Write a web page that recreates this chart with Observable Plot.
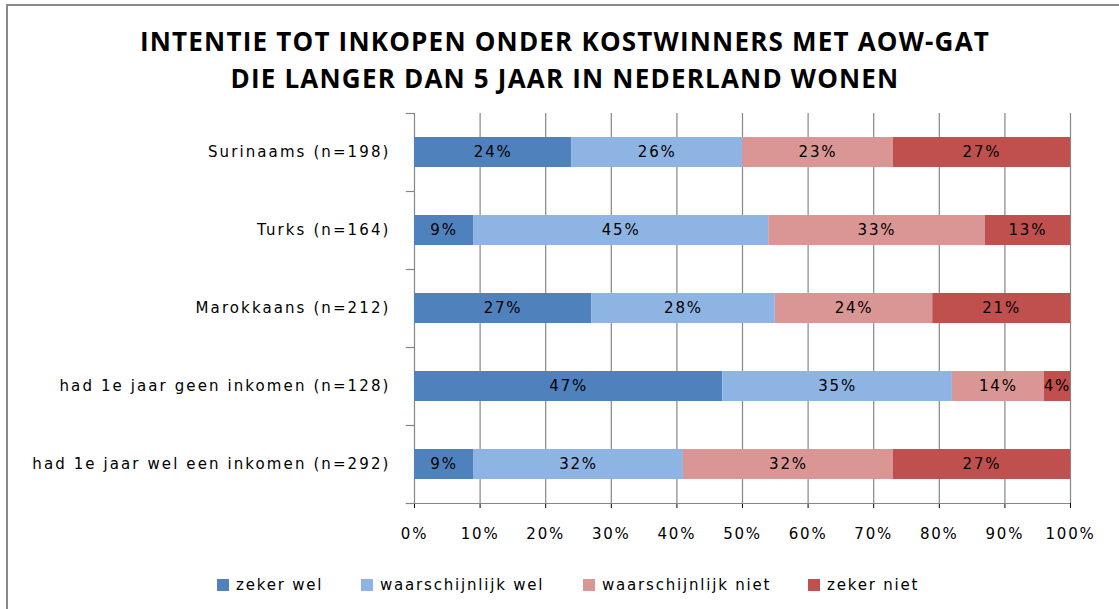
<!DOCTYPE html>
<html>
<head>
<meta charset="utf-8">
<script src="https://cdn.jsdelivr.net/npm/d3@7"></script>
<script src="https://cdn.jsdelivr.net/npm/@observablehq/plot@0.6"></script>
<style>
html, body { margin: 0; padding: 0; background: #fff; }
#wrap { position: relative; width: 1119px; height: 609px; overflow: hidden; background: #fff; }
#frame { position: absolute; left: 6px; top: 4px; width: 1200px; height: 700px; border-left: 2px solid #8a8a8a; border-top: 2px solid #8a8a8a; box-sizing: border-box; }
#title { position: absolute; left: 0; top: 23px; width: 1130px; text-align: center; font-family: "Open Sans", sans-serif; font-weight: bold; font-size: 26px; line-height: 37px; color: #000; letter-spacing: 1.2px; }
#chart { position: absolute; left: 0; top: 100px; }
#chart svg text { letter-spacing: 1.8px; }
#chart svg g[aria-label="y-axis tick label"] text { letter-spacing: 2.1px; }
#legend { position: absolute; top: 576px; left: 0; width: 1119px; font-family: "DejaVu Sans", sans-serif; font-size: 15px; color: #000; letter-spacing: 1.8px; }
#legend span.item { position: absolute; white-space: nowrap; }
#legend span.sw { display: inline-block; width: 12px; height: 12px; margin-right: 7px; vertical-align: -1px; }
</style>
</head>
<body>
<div id="wrap">
  <div id="frame"></div>
  <div id="title">INTENTIE TOT INKOPEN ONDER KOSTWINNERS MET AOW-GAT<br>DIE LANGER DAN 5 JAAR IN NEDERLAND WONEN</div>
  <div id="chart"></div>
  <div id="legend"></div>
</div>
<script>
const categories = [
  "Surinaams (n=198)",
  "Turks (n=164)",
  "Marokkaans (n=212)",
  "had 1e jaar geen inkomen (n=128)",
  "had 1e jaar wel een inkomen (n=292)"
];
const seriesNames = ["zeker wel", "waarschijnlijk wel", "waarschijnlijk niet", "zeker niet"];
const zekerWel = [24, 9, 27, 47, 9];
const waarschijnlijkWel = [26, 45, 28, 35, 32];
const waarschijnlijkNiet = [23, 33, 24, 14, 32];
const zekerNiet = [27, 13, 21, 4, 27];
const xTicks = [0, 0.1, 0.2, 0.3, 0.4, 0.5, 0.6, 0.7, 0.8, 0.9, 1];
const colors = ["#4F81BD", "#8EB4E3", "#D99694", "#C0504D"];

const seriesValues = [zekerWel, waarschijnlijkWel, waarschijnlijkNiet, zekerNiet];
const data = [];
categories.forEach((c, i) => {
  seriesNames.forEach((s, j) => {
    data.push({category: c, series: s, value: seriesValues[j][i]});
  });
});

const width = 1119, height = 450;
const marginTop = 13, marginBottom = 47, marginLeft = 414, marginRight = 49;
const step = (height - marginTop - marginBottom) / categories.length;

const chart = Plot.plot({
  width, height, marginTop, marginBottom, marginLeft, marginRight,
  style: {fontFamily: "DejaVu Sans, sans-serif", fontSize: "15px", color: "#000", background: "transparent"},
  x: {domain: [0, 1], ticks: xTicks, tickFormat: d3.format(".0%"), label: null, tickSize: 5, tickPadding: 20},
  y: {domain: categories, padding: 0, label: null, tickSize: 0, tickPadding: 24},
  color: {domain: seriesNames, range: colors},
  marks: [
    Plot.ruleX(xTicks, {stroke: "#868686", strokeWidth: 1.2}),
    Plot.barX(data, Plot.stackX({
      x: "value", y: "category", fill: "series", offset: "normalize", order: seriesNames,
      insetTop: (step - 30) / 2, insetBottom: (step - 30) / 2
    })),
    Plot.text(data, Plot.stackX({
      x: "value", y: "category", z: "series", offset: "normalize", order: seriesNames,
      text: d => d.value + "%", fill: "#000", fontSize: 15
    })),
    Plot.ruleY(categories, {y: d => d, x1: -0.0125, x2: 0, stroke: "#868686", strokeWidth: 1.2, dy: step / 2}),
    Plot.ruleY([categories[0]], {y: d => d, x1: -0.0125, x2: 0, stroke: "#868686", strokeWidth: 1.2, dy: -step / 2}),
    Plot.ruleY([categories[categories.length - 1]], {y: d => d, x1: -0.0125, x2: 1, stroke: "#868686", strokeWidth: 1.2, dy: step / 2})
  ]
});
document.getElementById("chart").appendChild(chart);

const legendX = [217, 361, 583, 808];
const legend = document.getElementById("legend");
seriesNames.forEach((s, i) => {
  const item = document.createElement("span");
  item.className = "item";
  item.style.left = legendX[i] + "px";
  item.innerHTML = `<span class="sw" style="background:${colors[i]}"></span>${s}`;
  legend.appendChild(item);
});
</script>
</body>
</html>
